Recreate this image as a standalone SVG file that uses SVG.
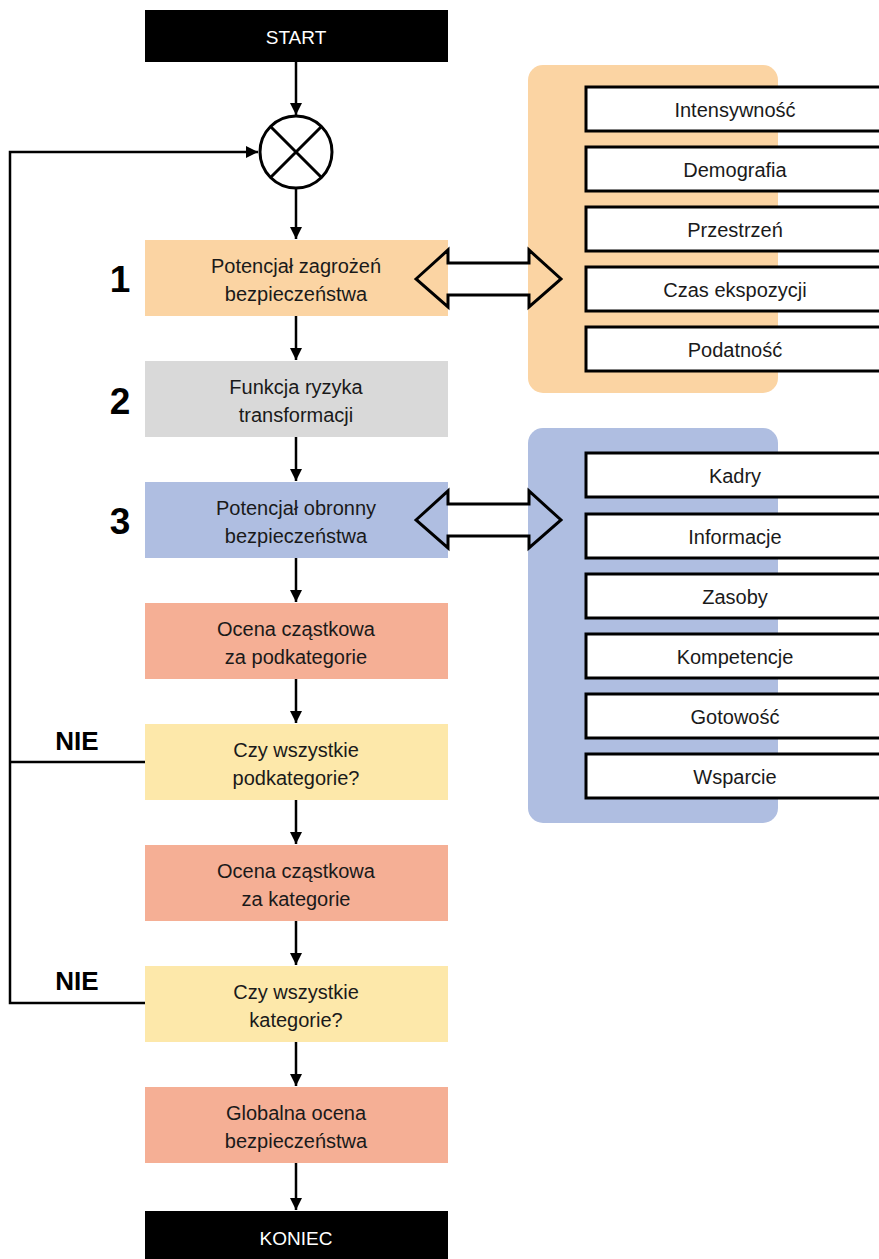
<svg xmlns="http://www.w3.org/2000/svg" width="879" height="1259" viewBox="0 0 879 1259">
  <defs>
    <marker id="ah" markerWidth="12" markerHeight="16" refX="12" refY="8" orient="auto" markerUnits="userSpaceOnUse">
      <path d="M0,2 L12,8 L0,14 Z" fill="#000"/>
    </marker>
    <style>
      .t { font-family: "Liberation Sans", Arial, sans-serif; font-size: 20px; fill: #1a1a1a; text-anchor: middle; }
      .tw { font-family: "Liberation Sans", Arial, sans-serif; font-size: 19px; fill: #fff; text-anchor: middle; }
      .b { font-family: "Liberation Sans", Arial, sans-serif; font-weight: bold; fill: #000; text-anchor: middle; }
      .term { fill: #000; }
      .item { fill: #fff; stroke: #000; stroke-width: 3; }
      .ln { fill: none; stroke: #000; stroke-width: 2.5; }
      .dbl { fill: none; stroke: #000; stroke-width: 3; stroke-linejoin: miter; }
    </style>
  </defs>
  <rect width="879" height="1259" fill="#fff"/>

  <!-- side panels -->
  <g id="panel-threats">
    <rect x="528" y="65" width="250" height="328" rx="15" fill="#FBD4A3"/>
    <rect class="item" x="586" y="87" width="300" height="44"/><text class="t" x="735" y="117">Intensywność</text>
    <rect class="item" x="586" y="147" width="300" height="44"/><text class="t" x="735" y="177">Demografia</text>
    <rect class="item" x="586" y="207" width="300" height="44"/><text class="t" x="735" y="237">Przestrzeń</text>
    <rect class="item" x="586" y="267" width="300" height="44"/><text class="t" x="735" y="297">Czas ekspozycji</text>
    <rect class="item" x="586" y="327" width="300" height="44"/><text class="t" x="735" y="357">Podatność</text>
  </g>
  <g id="panel-defence">
    <rect x="528" y="428" width="250" height="395" rx="15" fill="#AFBEE1"/>
    <rect class="item" x="586" y="453" width="300" height="44"/><text class="t" x="735" y="483">Kadry</text>
    <rect class="item" x="586" y="514" width="300" height="44"/><text class="t" x="735" y="544">Informacje</text>
    <rect class="item" x="586" y="574" width="300" height="44"/><text class="t" x="735" y="604">Zasoby</text>
    <rect class="item" x="586" y="634" width="300" height="44"/><text class="t" x="735" y="664">Kompetencje</text>
    <rect class="item" x="586" y="694" width="300" height="44"/><text class="t" x="735" y="724">Gotowość</text>
    <rect class="item" x="586" y="754" width="300" height="44"/><text class="t" x="735" y="784">Wsparcie</text>
  </g>

  <!-- main flow nodes -->
  <g id="start"><rect class="term" x="145" y="10" width="303" height="52"/><text class="tw" x="296" y="44">START</text></g>
  <g id="junction">
    <circle cx="296" cy="152" r="36" fill="#fff" stroke="#000" stroke-width="3"/>
    <path d="M270.5,126.5 L321.5,177.5 M321.5,126.5 L270.5,177.5" stroke="#000" stroke-width="3"/>
  </g>
  <g id="n1"><rect x="145" y="240" width="303" height="76" fill="#FBD4A3"/><text class="t" x="296" y="273">Potencjał zagrożeń</text><text class="t" x="296" y="301">bezpieczeństwa</text></g>
  <g id="n2"><rect x="145" y="361" width="303" height="76" fill="#D9D9D9"/><text class="t" x="296" y="394">Funkcja ryzyka</text><text class="t" x="296" y="422">transformacji</text></g>
  <g id="n3"><rect x="145" y="482" width="303" height="76" fill="#AFBEE1"/><text class="t" x="296" y="515">Potencjał obronny</text><text class="t" x="296" y="543">bezpieczeństwa</text></g>
  <g id="n4"><rect x="145" y="603" width="303" height="76" fill="#F5AF95"/><text class="t" x="296" y="636">Ocena cząstkowa</text><text class="t" x="296" y="664">za podkategorie</text></g>
  <g id="n5"><rect x="145" y="724" width="303" height="76" fill="#FDE8AA"/><text class="t" x="296" y="757">Czy wszystkie</text><text class="t" x="296" y="785">podkategorie?</text></g>
  <g id="n6"><rect x="145" y="845" width="303" height="76" fill="#F5AF95"/><text class="t" x="296" y="878">Ocena cząstkowa</text><text class="t" x="296" y="906">za kategorie</text></g>
  <g id="n7"><rect x="145" y="966" width="303" height="76" fill="#FDE8AA"/><text class="t" x="296" y="999">Czy wszystkie</text><text class="t" x="296" y="1027">kategorie?</text></g>
  <g id="n8"><rect x="145" y="1087" width="303" height="76" fill="#F5AF95"/><text class="t" x="296" y="1120">Globalna ocena</text><text class="t" x="296" y="1148">bezpieczeństwa</text></g>
  <g id="end"><rect class="term" x="145" y="1211" width="303" height="52"/><text class="tw" x="296" y="1245">KONIEC</text></g>

  <!-- step numbers and branch labels -->
  <g id="labels">
    <text class="b" x="120" y="292" font-size="37">1</text>
    <text class="b" x="120" y="414" font-size="37">2</text>
    <text class="b" x="120" y="534" font-size="37">3</text>
    <text class="b" x="77" y="750" font-size="26">NIE</text>
    <text class="b" x="77" y="990" font-size="26">NIE</text>
  </g>

  <!-- connectors -->
  <g id="connectors">
    <line class="ln" x1="296" y1="62" x2="296" y2="115" marker-end="url(#ah)"/>
    <line class="ln" x1="296" y1="188" x2="296" y2="239" marker-end="url(#ah)"/>
    <line class="ln" x1="296" y1="316" x2="296" y2="360" marker-end="url(#ah)"/>
    <line class="ln" x1="296" y1="437" x2="296" y2="481" marker-end="url(#ah)"/>
    <line class="ln" x1="296" y1="558" x2="296" y2="602" marker-end="url(#ah)"/>
    <line class="ln" x1="296" y1="679" x2="296" y2="723" marker-end="url(#ah)"/>
    <line class="ln" x1="296" y1="800" x2="296" y2="844" marker-end="url(#ah)"/>
    <line class="ln" x1="296" y1="921" x2="296" y2="965" marker-end="url(#ah)"/>
    <line class="ln" x1="296" y1="1042" x2="296" y2="1086" marker-end="url(#ah)"/>
    <line class="ln" x1="296" y1="1163" x2="296" y2="1210" marker-end="url(#ah)"/>
    <!-- feedback loops -->
    <polyline class="ln" points="145,762 10,762"/>
    <polyline class="ln" points="145,1003 10,1003 10,152 258,152" marker-end="url(#ah)"/>
    <!-- double arrows to side panels -->
    <polygon class="dbl" points="416,279 448,250 448,263 529,263 529,250 561,279 529,307 529,295 448,295 448,307"/>
    <polygon class="dbl" points="416,520 448,491 448,504 529,504 529,491 561,520 529,548 529,536 448,536 448,548"/>
  </g>
</svg>
